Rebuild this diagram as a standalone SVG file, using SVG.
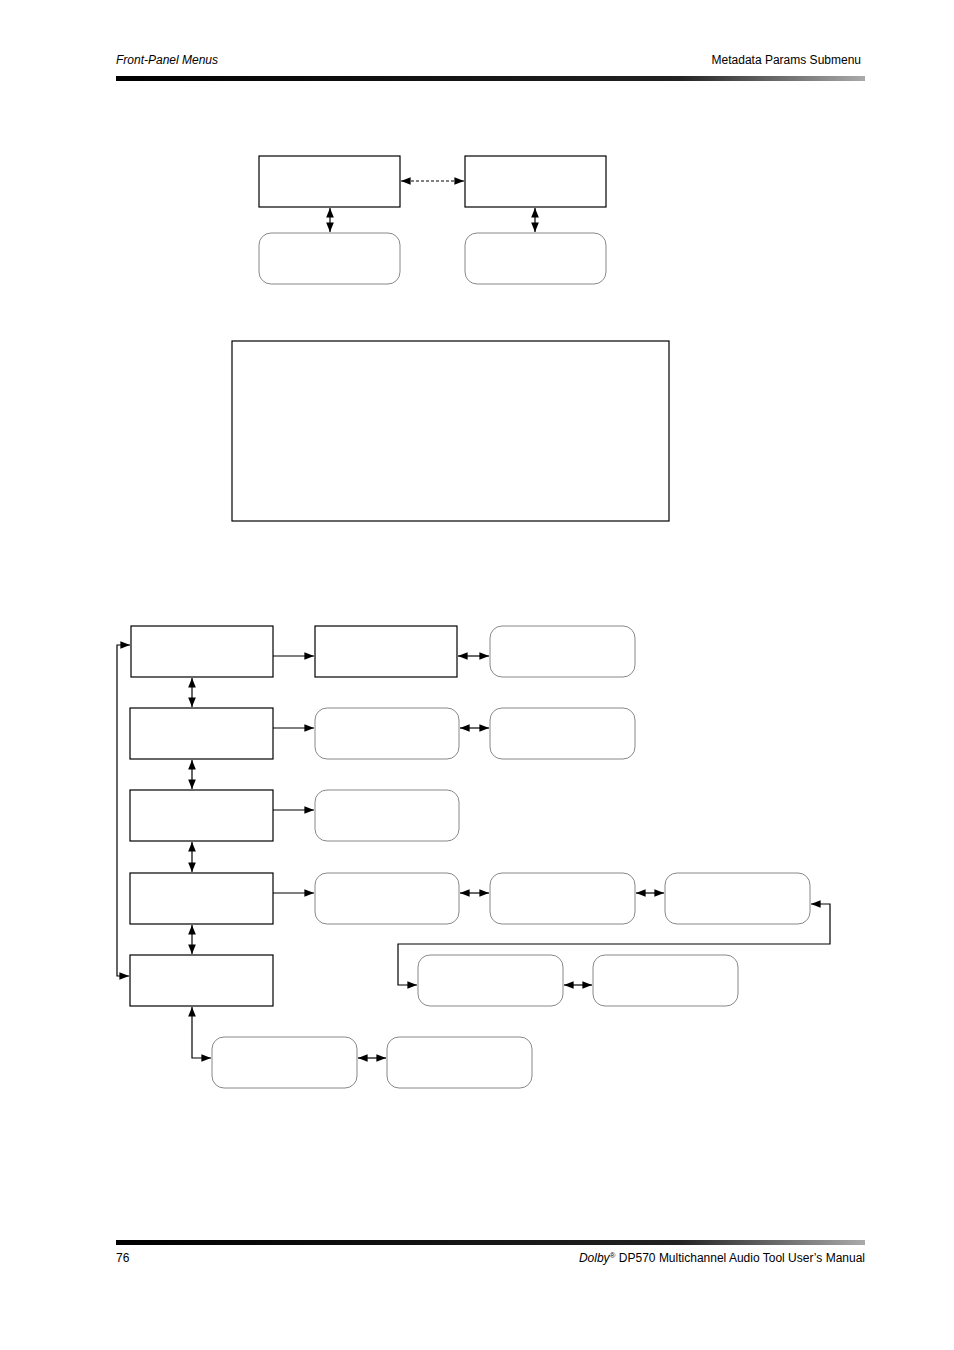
<svg xmlns="http://www.w3.org/2000/svg" width="954" height="1350" viewBox="0 0 954 1350">
<style>
.t{font-family:"Liberation Sans",Arial,sans-serif;font-size:12px;fill:#000}
.r{fill:#fff;stroke:#000;stroke-width:1.2}
.o{fill:#fff;stroke:#888;stroke-width:1}
.c{fill:none;stroke:#000;stroke-width:1.2}
</style>
<defs>
<linearGradient id="g" x1="0" x2="1"><stop offset="0" stop-color="#000"/><stop offset="0.75" stop-color="#222"/><stop offset="1" stop-color="#aaa"/></linearGradient>
<marker id="a" viewBox="0 0 10 10" refX="10" refY="5" markerWidth="8" markerHeight="8" orient="auto-start-reverse"><path d="M0,1 L10,5 L0,9 z" fill="#000"/></marker>
</defs>
<rect width="954" height="1350" fill="#fff"/>
<text class="t" x="116" y="64" font-style="italic">Front-Panel Menus</text>
<text class="t" x="861" y="64" text-anchor="end">Metadata Params Submenu</text>
<rect x="116" y="76" width="749" height="5" fill="url(#g)"/>
<rect x="116" y="1240" width="749" height="5" fill="url(#g)"/>
<text class="t" x="116" y="1262">76</text>
<text class="t" x="865" y="1262" text-anchor="end"><tspan font-style="italic">Dolby</tspan><tspan font-size="8" dy="-4">®</tspan><tspan dy="4"> DP570 Multichannel Audio Tool User’s Manual</tspan></text>
<g id="top1"><rect class="r" x="259" y="156" width="141" height="51"/></g>
<g id="top2"><rect class="r" x="465" y="156" width="141" height="51"/></g>
<g id="top3"><rect class="o" x="259" y="233" width="141" height="51" rx="12"/></g>
<g id="top4"><rect class="o" x="465" y="233" width="141" height="51" rx="12"/></g>
<g id="big"><rect class="r" x="232" y="341" width="437" height="180"/></g>
<g id="L1"><rect class="r" x="131" y="626" width="142" height="51"/></g>
<g id="L2"><rect class="r" x="130" y="708" width="143" height="51"/></g>
<g id="L3"><rect class="r" x="130" y="790" width="143" height="51"/></g>
<g id="L4"><rect class="r" x="130" y="873" width="143" height="51"/></g>
<g id="L5"><rect class="r" x="130" y="955" width="143" height="51"/></g>
<g id="r1a"><rect class="r" x="315" y="626" width="142" height="51"/></g>
<g id="r1b"><rect class="o" x="490" y="626" width="145" height="51" rx="12"/></g>
<g id="r2a"><rect class="o" x="315" y="708" width="144" height="51" rx="12"/></g>
<g id="r2b"><rect class="o" x="490" y="708" width="145" height="51" rx="12"/></g>
<g id="r3a"><rect class="o" x="315" y="790" width="144" height="51" rx="12"/></g>
<g id="r4a"><rect class="o" x="315" y="873" width="144" height="51" rx="12"/></g>
<g id="r4b"><rect class="o" x="490" y="873" width="145" height="51" rx="12"/></g>
<g id="r4c"><rect class="o" x="665" y="873" width="145" height="51" rx="12"/></g>
<g id="r5a"><rect class="o" x="418" y="955" width="145" height="51" rx="12"/></g>
<g id="r5b"><rect class="o" x="593" y="955" width="145" height="51" rx="12"/></g>
<g id="b1"><rect class="o" x="212" y="1037" width="145" height="51" rx="12"/></g>
<g id="b2"><rect class="o" x="387" y="1037" width="145" height="51" rx="12"/></g>
<g id="connectors">
<path class="c" d="M401,181 H464" stroke-dasharray="3,2" marker-start="url(#a)" marker-end="url(#a)"/>
<path class="c" d="M330,208 V232" marker-start="url(#a)" marker-end="url(#a)"/>
<path class="c" d="M535,208 V232" marker-start="url(#a)" marker-end="url(#a)"/>
<path class="c" d="M192,678 V707" marker-start="url(#a)" marker-end="url(#a)"/>
<path class="c" d="M192,760 V789" marker-start="url(#a)" marker-end="url(#a)"/>
<path class="c" d="M192,842 V872" marker-start="url(#a)" marker-end="url(#a)"/>
<path class="c" d="M192,925 V954" marker-start="url(#a)" marker-end="url(#a)"/>
<path class="c" d="M130,645 H117 V976 H129" marker-start="url(#a)" marker-end="url(#a)"/>
<path class="c" d="M273,656 H314" marker-end="url(#a)"/>
<path class="c" d="M273,728 H314" marker-end="url(#a)"/>
<path class="c" d="M273,810 H314" marker-end="url(#a)"/>
<path class="c" d="M273,893 H314" marker-end="url(#a)"/>
<path class="c" d="M458,656 H489" marker-start="url(#a)" marker-end="url(#a)"/>
<path class="c" d="M460,728 H489" marker-start="url(#a)" marker-end="url(#a)"/>
<path class="c" d="M460,893 H489" marker-start="url(#a)" marker-end="url(#a)"/>
<path class="c" d="M636,893 H664" marker-start="url(#a)" marker-end="url(#a)"/>
<path class="c" d="M811,904 H830 V944 H398 V985 H417" marker-start="url(#a)" marker-end="url(#a)"/>
<path class="c" d="M564,985 H592" marker-start="url(#a)" marker-end="url(#a)"/>
<path class="c" d="M192,1007 V1058 H211" marker-start="url(#a)" marker-end="url(#a)"/>
<path class="c" d="M358,1058 H386" marker-start="url(#a)" marker-end="url(#a)"/>
</g>
</svg>
